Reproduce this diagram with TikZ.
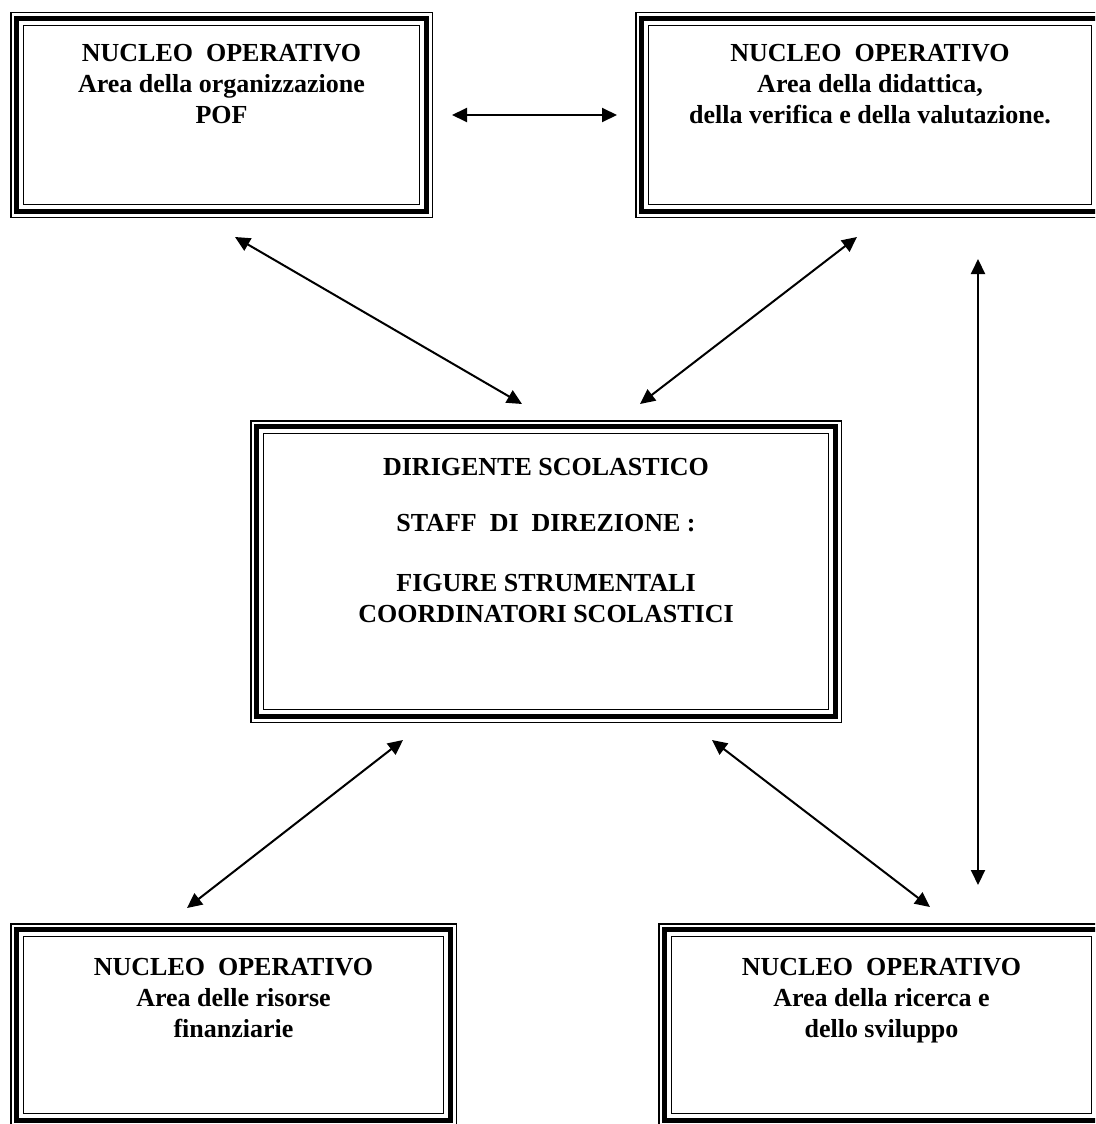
\documentclass[tikz,border=0pt]{standalone}
\usepackage{fontspec}
\setmainfont{Liberation Serif}
\usetikzlibrary{arrows.meta,calc}
\tikzset{
  boxnode/.style={draw=none, inner sep=0pt, outer sep=0pt, rectangle},
  txt/.style={inner sep=0pt, align=center, anchor=north,
    font=\fontsize{26}{31}\selectfont\bfseries},
  link/.style={line width=2pt, {Triangle[length=15pt,width=14pt]}-{Triangle[length=15pt,width=14pt]}}
}
\begin{document}
\begin{tikzpicture}[x=1pt,y=-1pt]
\useasboundingbox (0,0) rectangle (1095,1124);
\clip (0,0) rectangle (1095,1124);
\fill[white] (0,0) rectangle (1095,1124);
% boxes
\node[boxnode, minimum width=423, minimum height=206] (tl) at (221.5,115) {};
\node[boxnode, minimum width=470, minimum height=206] (tr) at (870,115) {};
\node[boxnode, minimum width=592, minimum height=303] (c) at (546,571.5) {};
\node[boxnode, minimum width=447, minimum height=204] (bl) at (233.5,1025) {};
\node[boxnode, minimum width=447, minimum height=204] (br) at (881.5,1025) {};
\foreach \n in {tl,tr,c,bl,br}{
  \foreach \d/\w in {0.75/1.5, 6.5/5, 13.5/1.5}{
    \draw[line width=\w pt] ($(\n.north west)+(\d,\d)$) rectangle ($(\n.south east)-(\d,\d)$);
  }
}
% texts
\node[txt] (tlt) at (221.5,44) {NUCLEO\ \ OPERATIVO\\Area della organizzazione\\POF};
\node[txt] (trt) at (870,44) {NUCLEO\ \ OPERATIVO\\Area della didattica,\\della verifica e della valutazione.};
\node[txt] (ct) at (546,458) {DIRIGENTE SCOLASTICO\\[25pt]STAFF\ \ DI\ \ DIREZIONE :\\[29pt]FIGURE STRUMENTALI\\COORDINATORI SCOLASTICI};
\node[txt] (blt) at (233.5,958) {NUCLEO\ \ OPERATIVO\\Area delle risorse\\finanziarie};
\node[txt] (brt) at (881.5,958) {NUCLEO\ \ OPERATIVO\\Area della ricerca e\\dello sviluppo};
% connector ends
\coordinate (h1) at (452,115);  \coordinate (h2) at (617,115);
\coordinate (a1) at (235,237);  \coordinate (a2) at (522,404);
\coordinate (b1) at (857,237);  \coordinate (b2) at (640,404);
\coordinate (v1) at (978,259);  \coordinate (v2) at (978,885);
\coordinate (d1) at (403,740);  \coordinate (d2) at (187,908);
\coordinate (e1) at (712,740);  \coordinate (e2) at (930,907);
\draw[link] (h1) -- (h2);
\draw[link] (a1) -- (a2);
\draw[link] (b1) -- (b2);
\draw[link] (v1) -- (v2);
\draw[link] (d1) -- (d2);
\draw[link] (e1) -- (e2);
\end{tikzpicture}
\end{document}
